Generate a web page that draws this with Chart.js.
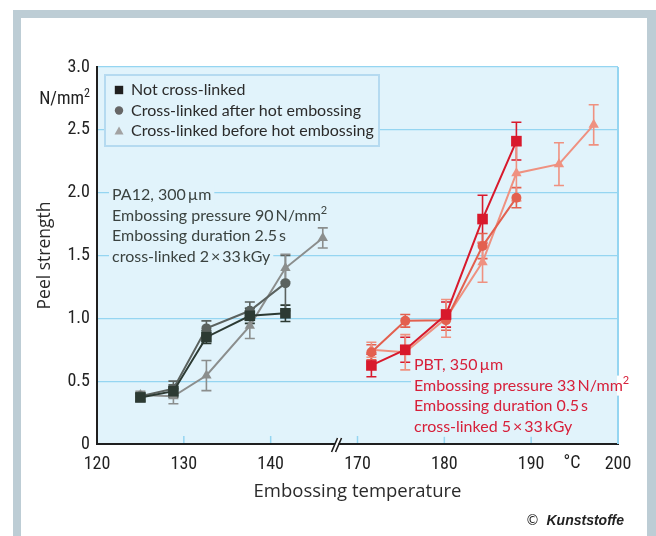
<!DOCTYPE html>
<html><head><meta charset="utf-8">
<script src="https://cdn.jsdelivr.net/npm/chart.js@4.4.0/dist/chart.umd.min.js"></script>
<style>
html, body { margin: 0; padding: 0; background: #fff; }
</style>
</head><body>
<canvas id="peel" width="656" height="536"></canvas>
<script>
// PA12, 300 um  (left part of the broken axis, temperatures in °C)
const pa12TempNot    = [125, 128.8, 132.6, 137.6, 141.7];
const pa12Not        = [0.37, 0.42, 0.85, 1.02, 1.04];
const pa12NotErr     = [0.03, 0.05, 0.05, 0.06, 0.065];
const pa12TempAfter  = [125, 128.8, 132.6, 137.6, 141.7];
const pa12After      = [0.38, 0.44, 0.92, 1.06, 1.28];
const pa12AfterErr   = [0.03, 0.06, 0.06, 0.07, 0.22];
const pa12TempBefore = [125, 128.8, 132.6, 137.6, 141.7, 146];
const pa12Before     = [0.39, 0.38, 0.545, 0.94, 1.40, 1.64];
const pa12BeforeErr  = [0.03, 0.06, 0.12, 0.1, 0.11, 0.08];

// PBT, 350 um  (right part of the broken axis)
const pbtTempNot    = [171.6, 175.5, 180.2, 184.4, 188.3];
const pbtNot        = [0.625, 0.75, 1.03, 1.79, 2.41];
const pbtNotErr     = [0.09, 0.1, 0.1, 0.19, 0.15];
const pbtTempAfter  = [171.6, 175.5, 180.2, 184.4, 188.3];
const pbtAfter      = [0.73, 0.98, 0.985, 1.575, 1.96];
const pbtAfterErr   = [0.06, 0.05, 0.08, 0.1, 0.08];
const pbtTempBefore = [171.6, 175.5, 180.2, 184.4, 188.3, 193.2, 197.2];
const pbtBefore     = [0.75, 0.73, 1.0, 1.447, 2.155, 2.227, 2.54];
const pbtBeforeErr  = [0.06, 0.14, 0.15, 0.16, 0.22, 0.17, 0.16];

const legendLabels = ['Not cross-linked', 'Cross-linked after hot embossing', 'Cross-linked before hot embossing'];
const yTicks = [0, 0.5, 1.0, 1.5, 2.0, 2.5, 3.0];

// axis is broken between 140 and 170 °C: everything from 170 up is shifted 20 down
const BREAK_FROM = 170, BREAK_SHIFT = 20;
function axisPos(t) { return t >= 150 ? t - BREAK_SHIFT : t; }
function axisLabel(v) { return v >= 150 ? v + BREAK_SHIFT : v; }

const TEXT_FONT = 'Lato, sans-serif';
const TICK_FONT = '"Roboto Condensed", Roboto, sans-serif';
const TITLE_FONT = '"Open Sans", sans-serif';
const PLOT_BG = '#e1f3fb';
const GRID = '#95d5f1';

function series(label, temps, vals, errs, color, style, radius) {
    return {
        label: label,
        data: temps.map((t, i) => ({ x: axisPos(t), y: vals[i], err: errs[i] })),
        borderColor: color,
        backgroundColor: color,
        pointStyle: style,
        pointRadius: radius,
        pointBorderWidth: 0,
        borderWidth: 2,
        showLine: true,
        fill: false
    };
}

const datasets = [
    series('PA12 not cross-linked', pa12TempNot, pa12Not, pa12NotErr, '#2c3a33', 'rect', 7.5),
    series('PBT not cross-linked', pbtTempNot, pbtNot, pbtNotErr, '#d8192c', 'rect', 7.5),
    series('PA12 after', pa12TempAfter, pa12After, pa12AfterErr, '#5b625f', 'circle', 5),
    series('PBT after', pbtTempAfter, pbtAfter, pbtAfterErr, '#e3604f', 'circle', 5),
    series('PA12 before', pa12TempBefore, pa12Before, pa12BeforeErr, '#8b8e8d', 'triangle', 6),
    series('PBT before', pbtTempBefore, pbtBefore, pbtBeforeErr, '#ef9180', 'triangle', 6)
];

// draws "text" with an optional superscript tail, returns width
function richText(ctx, parts, x, y, size, draw) {
    let w = 0;
    parts.forEach(p => {
        ctx.font = (p.sup ? Math.round(size * 0.7) : size) + 'px ' + TEXT_FONT;
        if (draw) ctx.fillText(p.t, x + w, p.sup ? y - size * 0.35 : y);
        w += ctx.measureText(p.t).width;
    });
    return w;
}

const pa12Note = [
    [{ t: 'PA12, 300\u2009µm' }],
    [{ t: 'Embossing pressure 90\u2009N/mm' }, { t: '2', sup: true }],
    [{ t: 'Embossing duration 2.5\u2009s' }],
    [{ t: 'cross-linked 2\u2009×\u200933\u2009kGy' }]
];
const pbtNote = [
    [{ t: 'PBT, 350\u2009µm' }],
    [{ t: 'Embossing pressure 33\u2009N/mm' }, { t: '2', sup: true }],
    [{ t: 'Embossing duration 0.5\u2009s' }],
    [{ t: 'cross-linked 5\u2009×\u200933\u2009kGy' }]
];

const decor = {
    id: 'decor',
    beforeDraw(chart) {
        const ctx = chart.ctx, a = chart.chartArea;
        ctx.save();
        ctx.fillStyle = '#fff';
        ctx.fillRect(0, 0, chart.width, chart.height);
        ctx.fillStyle = '#bdcdd5';
        ctx.fillRect(13, 10, 8, chart.height - 10);
        ctx.fillRect(13, 10, chart.width - 13, 8);
        ctx.fillRect(647, 10, 9, chart.height - 10);
        ctx.fillStyle = PLOT_BG;
        ctx.fillRect(a.left, a.top, a.right - a.left, a.bottom - a.top);
        ctx.restore();
    },
    beforeDatasetsDraw(chart) {
        const ctx = chart.ctx, a = chart.chartArea, xs = chart.scales.x;
        ctx.save();
        // right frame of the plot
        ctx.strokeStyle = GRID;
        ctx.lineWidth = 2;
        ctx.beginPath();
        ctx.moveTo(a.right, a.top);
        ctx.lineTo(a.right, a.bottom);
        ctx.stroke();
        // inner ticks on the x axis
        ctx.lineWidth = 1.5;
        xs.ticks.forEach(t => {
            if (t.value === xs.min || t.value === xs.max) return;
            const px = xs.getPixelForValue(t.value);
            ctx.beginPath();
            ctx.moveTo(px, a.bottom - 1);
            ctx.lineTo(px, a.bottom - 8);
            ctx.stroke();
        });
        // notes, masking the grid behind them
        const notes = [
            { lines: pa12Note, x: 112, y: 195, color: '#3b4340' },
            { lines: pbtNote, x: 414, y: 365, color: '#d7203a' }
        ];
        ctx.textBaseline = 'middle';
        notes.forEach(n => {
            n.lines.forEach((parts, i) => {
                const y = n.y + i * 20.6;
                const w = richText(ctx, parts, n.x, y, 16, false);
                const x0 = n.x - 3, x1 = n.x + w + 3;
                ctx.fillStyle = PLOT_BG;
                ctx.fillRect(x0, y - 10, Math.min(x1, a.right - 1) - x0, 20);
                if (x1 > a.right + 1) {
                    ctx.fillStyle = '#fff';
                    ctx.fillRect(a.right - 1, y - 10, x1 - a.right + 1, 20);
                }
                ctx.fillStyle = n.color;
                richText(ctx, parts, n.x, y, 16, true);
            });
        });
        ctx.restore();

        // error bars
        const ys = chart.scales.y;
        ctx.save();
        chart.data.datasets.forEach((ds, di) => {
            const meta = chart.getDatasetMeta(di);
            ctx.strokeStyle = ds.borderColor;
            ctx.lineWidth = 1.6;
            ds.data.forEach((d, i) => {
                const px = meta.data[i].x;
                const top = ys.getPixelForValue(d.y + d.err);
                const bot = ys.getPixelForValue(d.y - d.err);
                ctx.beginPath();
                ctx.moveTo(px, top); ctx.lineTo(px, bot);
                ctx.moveTo(px - 5, top); ctx.lineTo(px + 5, top);
                ctx.moveTo(px - 5, bot); ctx.lineTo(px + 5, bot);
                ctx.stroke();
            });
        });
        ctx.restore();
    },
    afterDraw(chart) {
        const ctx = chart.ctx, a = chart.chartArea, xs = chart.scales.x;
        ctx.save();
        // legend box
        ctx.fillStyle = PLOT_BG;
        ctx.fillRect(105, 75, 274, 71);
        ctx.strokeStyle = '#b5daf0';
        ctx.lineWidth = 2;
        ctx.strokeRect(105, 75, 274, 71);
        const marks = ['square', 'circle', 'triangle'];
        const markColors = ['#1f1f1f', '#666', '#a2a2a2'];
        legendLabels.forEach((lab, i) => {
            const y = 90 + i * 20.5, mx = 119;
            ctx.fillStyle = markColors[i];
            ctx.beginPath();
            if (marks[i] === 'square') ctx.rect(mx - 4.2, y - 4.2, 8.4, 8.4);
            else if (marks[i] === 'circle') ctx.arc(mx, y, 4.2, 0, Math.PI * 2);
            else { ctx.moveTo(mx, y - 4.5); ctx.lineTo(mx + 4.5, y + 3.5); ctx.lineTo(mx - 4.5, y + 3.5); ctx.closePath(); }
            ctx.fill();
            ctx.fillStyle = '#2b2b2b';
            ctx.font = '16px ' + TEXT_FONT;
            ctx.textBaseline = 'middle';
            ctx.fillText(lab, 131, y);
        });

        // unit on the y axis
        ctx.fillStyle = '#222';
        ctx.textAlign = 'right';
        ctx.font = '12px ' + TICK_FONT;
        ctx.fillText('2', 90, 94);
        const sw = ctx.measureText('2').width;
        ctx.font = '18px ' + TICK_FONT;
        ctx.fillText('N/mm', 90 - sw, 99);
        // unit on the x axis
        ctx.textAlign = 'center';
        ctx.fillText('°C', 572, 463);

        // axis break
        const bx = xs.getPixelForValue(147.7);
        ctx.fillStyle = '#fff';
        ctx.beginPath();
        ctx.moveTo(bx - 5.5, a.bottom + 7); ctx.lineTo(bx + 0.5, a.bottom - 6);
        ctx.lineTo(bx + 3.5, a.bottom - 6); ctx.lineTo(bx - 2.5, a.bottom + 7);
        ctx.closePath();
        ctx.fill();
        ctx.strokeStyle = '#1f1f1f';
        ctx.lineWidth = 1.6;
        ctx.beginPath();
        ctx.moveTo(bx - 6, a.bottom + 8); ctx.lineTo(bx, a.bottom - 6);
        ctx.moveTo(bx - 2, a.bottom + 8); ctx.lineTo(bx + 4, a.bottom - 6);
        ctx.stroke();

        // source
        ctx.textAlign = 'right';
        ctx.fillStyle = '#222';
        ctx.font = 'italic bold 14px "Liberation Sans", Arial, sans-serif';
        ctx.fillText('Kunststoffe', 624, 521);
        const kw = ctx.measureText('Kunststoffe').width;
        ctx.font = '14px "DejaVu Sans", sans-serif';
        ctx.fillText('©', 624 - kw - 7, 521);
        ctx.restore();
    }
};

new Chart(document.getElementById('peel'), {
    type: 'scatter',
    data: { datasets: datasets },
    options: {
        responsive: false,
        animation: false,
        devicePixelRatio: 1,
        layout: { padding: { left: 0, right: 38, top: 67, bottom: 0 } },
        plugins: { legend: { display: false }, tooltip: { enabled: false } },
        scales: {
            x: {
                type: 'linear',
                min: 120,
                max: 180,
                grid: { display: false },
                border: { display: true, color: '#1f1f1f', width: 2 },
                ticks: {
                    stepSize: 10,
                    autoSkip: false,
                    maxRotation: 0,
                    padding: 2,
                    color: '#222',
                    font: { family: TICK_FONT, size: 18 },
                    callback: v => String(axisLabel(v))
                },
                title: {
                    display: true,
                    text: 'Embossing temperature',
                    color: '#2a2a2a',
                    font: { family: TITLE_FONT, size: 18.5 },
                    padding: { top: 0, bottom: 33 }
                },
                afterFit: s => { s.height = 92; }
            },
            y: {
                min: 0,
                max: 3,
                afterBuildTicks: s => { s.ticks = yTicks.map(v => ({ value: v })); },
                grid: { color: GRID, lineWidth: 1.2, drawTicks: false },
                border: { display: true, color: '#1f1f1f', width: 2 },
                ticks: {
                    padding: 7,
                    color: '#222',
                    font: { family: TICK_FONT, size: 18 },
                    callback: v => v === 0 ? '0' : v.toFixed(1)
                },
                title: {
                    display: true,
                    text: 'Peel strength',
                    color: '#2a2a2a',
                    font: { family: TITLE_FONT, size: 17.5 },
                    padding: { top: 35, bottom: 0 }
                },
                afterFit: s => { s.width = 97; }
            }
        }
    },
    plugins: [decor]
});
</script>
</body></html>
